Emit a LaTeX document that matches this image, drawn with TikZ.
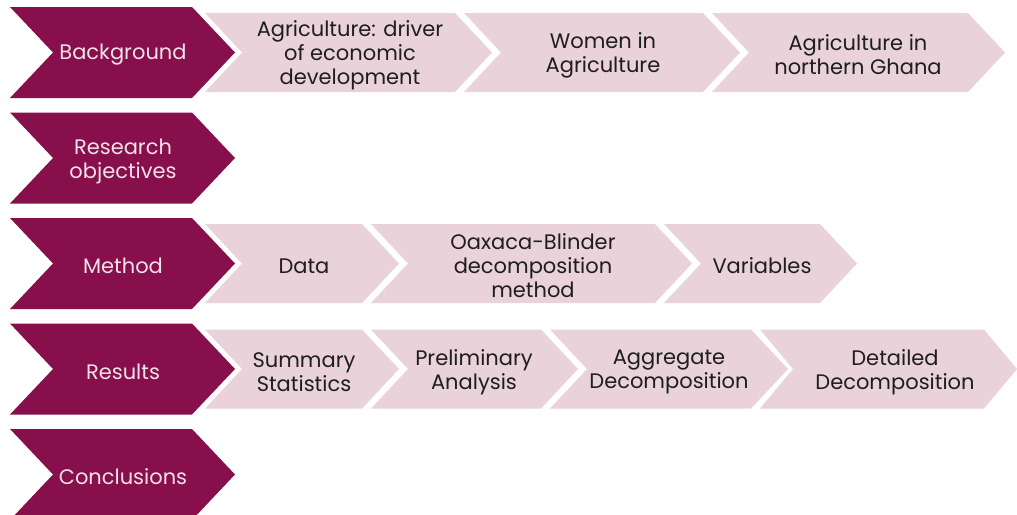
\documentclass[tikz,border=0pt]{standalone}
\usepackage{fontspec}
\setmainfont{Poppins}
\definecolor{darkc}{HTML}{860F4C}
\definecolor{lightc}{HTML}{E9D2DA}
\definecolor{darktext}{HTML}{F4E0E9}
\definecolor{lighttext}{HTML}{1E1E1E}
\tikzset{
  darkshape/.style={fill=darkc},
  lightshape/.style={fill=lightc},
  basiclabel/.style={align=center, font=\fontsize{21}{24}\selectfont, inner sep=0pt, yshift=-3pt},
  darklabel/.style={basiclabel, text=darktext},
  lightlabel/.style={basiclabel, text=lighttext},
}
% style, L, R, top, bottom, depth
\newcommand\chevshape[6]{%
  \fill[#1] (#2,#4) -- (#3,#4) -- ({#3+#6},{(#4+#5)/2}) -- (#3,#5) -- (#2,#5) -- ({#2+#6},{(#4+#5)/2}) -- cycle;}
\begin{document}
\begin{tikzpicture}[x=1pt,y=-1pt]
\useasboundingbox (0,0) rectangle (1017,514);
\begin{scope}
\clip (0,0) rectangle (1017,514);
% dark chevrons
\chevshape{darkshape}{10}{192}{7}{98}{43}
\chevshape{darkshape}{10}{192}{112.5}{203.5}{43}
\chevshape{darkshape}{10}{192}{218}{309}{43}
\chevshape{darkshape}{10}{192}{323.5}{414.5}{43}
\chevshape{darkshape}{10}{192}{429}{520}{43}
% row 1 light chevrons
\chevshape{lightshape}{205}{455}{13}{92}{37}
\chevshape{lightshape}{464}{703}{13}{92}{37}
\chevshape{lightshape}{712}{968}{13}{92}{37}
% row 3 light chevrons
\chevshape{lightshape}{205}{362}{224}{303}{37}
\chevshape{lightshape}{371}{655}{224}{303}{37}
\chevshape{lightshape}{664}{820}{224}{303}{37}
% row 4 light chevrons
\chevshape{lightshape}{205}{362}{329.5}{408.5}{37}
\chevshape{lightshape}{371}{541}{329.5}{408.5}{37}
\chevshape{lightshape}{550}{751}{329.5}{408.5}{37}
\chevshape{lightshape}{760}{984}{329.5}{408.5}{33}
\end{scope}
% labels
\node[darklabel] (bg) at (123,52) {Background};
\node[darklabel] (ro) at (123,158) {Research\\objectives};
\node[darklabel] (me) at (123,263) {Method};
\node[darklabel] (re) at (123,369) {Results};
\node[darklabel] (co) at (123,474) {Conclusions};
\node[lightlabel] (a1) at (350,52) {Agriculture: driver\\of economic\\development};
\node[lightlabel] (a2) at (603,52) {Women in\\Agriculture};
\node[lightlabel] (a3) at (858,52) {Agriculture in\\northern Ghana};
\node[lightlabel] (m1) at (304,263) {Data};
\node[lightlabel] (m2) at (533,263) {Oaxaca-Blinder\\decomposition\\method};
\node[lightlabel] (m3) at (762,263) {Variables};
\node[lightlabel] (r1) at (304,369) {Summary\\Statistics};
\node[lightlabel] (r2) at (474,369) {Preliminary\\Analysis};
\node[lightlabel] (r3) at (669,369) {Aggregate\\Decomposition};
\node[lightlabel] (r4) at (895,369) {Detailed\\Decomposition};
\end{tikzpicture}
\end{document}
